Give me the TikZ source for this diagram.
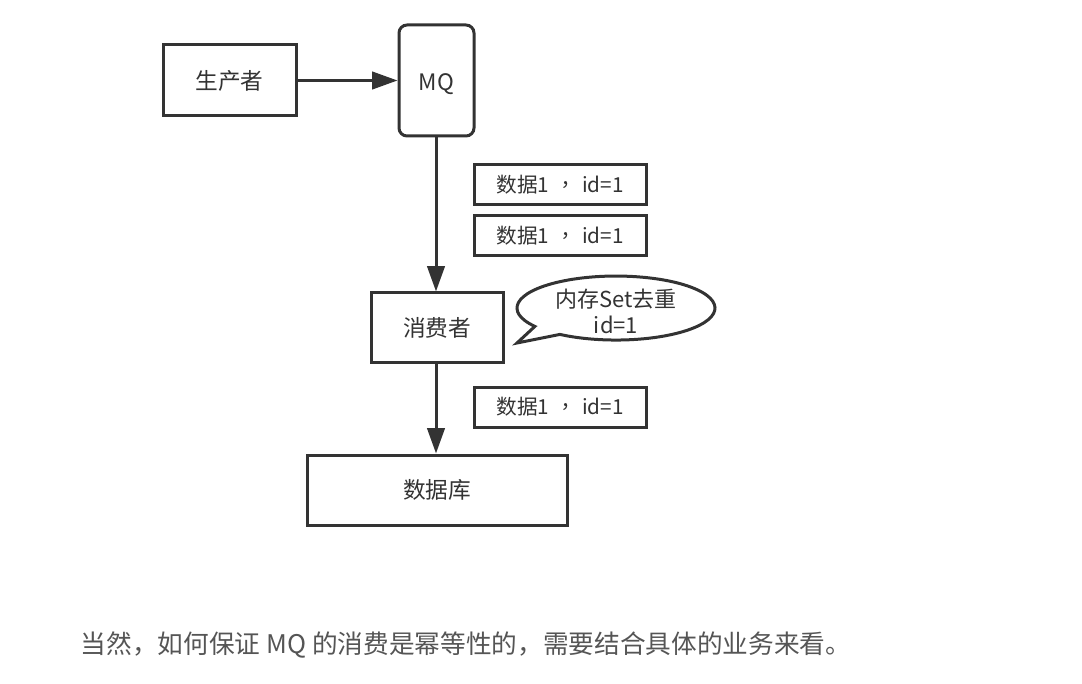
\documentclass[tikz,border=0pt]{standalone}
\usepackage{fontspec}
\setmainfont{Noto Sans CJK SC}
\newfontfamily\tcfont{Noto Sans CJK TC}
\usetikzlibrary{arrows.meta}
\definecolor{ln}{HTML}{333333}
\definecolor{tx}{HTML}{333333}
\definecolor{para}{HTML}{555555}
\newcommand{\ccomma}{\hspace{0.3em}{\tcfont ，}\hspace{0.3em}}
\tikzset{
  box/.style={draw=ln, line width=2.25pt, fill=white, inner sep=0pt, text=tx, font=\fontsize{17}{20}\selectfont},
  databox/.style={box, minimum width=129pt, minimum height=30pt, font=\fontsize{15.5}{18}\selectfont},
  flow/.style={draw=ln, line width=2.25pt, -{Triangle[length=19pt,width=13pt]}},
}
\begin{document}
\begin{tikzpicture}[x=0.75pt,y=-0.75pt]
\useasboundingbox (0,0) rectangle (1082,684);
\node[box, minimum width=99.75pt, minimum height=53.25pt] (prod) at (229.5,80.5) {生产者};
\node[box, rounded corners=6pt, minimum width=56.25pt, minimum height=83.25pt,
  label={[text=tx, font=\fontsize{17}{20}\selectfont, inner sep=0pt, yshift=-2.5pt]center:MQ}] (mq) at (436.5,80.5) {};
\node[databox] (d1) at (560,185) {数据1\ccomma id=1};
\node[databox] (d2) at (560,236) {数据1\ccomma id=1};
\node[box, minimum width=99pt, minimum height=52.5pt] (cons) at (437,328) {消费者};
\node[databox] (d3) at (560,407) {数据1\ccomma id=1};
\node[box, minimum width=195pt, minimum height=52.5pt] (db) at (437,490) {数据库};
\draw[flow] (prod.east) -- (mq.west |- prod.east);
\draw[flow] (mq.south -| 436,0) -- (cons.north -| 436,0);
\draw[flow] (cons.south -| 436,0) -- (db.north -| 436,0);
% callout
\coordinate (cc) at (616,308);
\coordinate (tip) at (517,343);
\draw[draw=ln, line width=2.25pt, fill=white, line join=miter]
  (534.9,326.4) arc[start angle=145, end angle=484.5, x radius=99, y radius=32] -- (tip) -- cycle;
\node[text=tx, font=\fontsize{16.5}{19.5}\selectfont, align=center, inner sep=0pt] (memo) at (616,311) {内存Set去重\\id=1};
\node[text=para, font=\fontsize{19.25}{23}\selectfont, inner sep=0pt] (txt) at (466,645) {当然，如何保证 MQ 的消费是幂等性的，需要结合具体的业务来看。};
\end{tikzpicture}
\end{document}
